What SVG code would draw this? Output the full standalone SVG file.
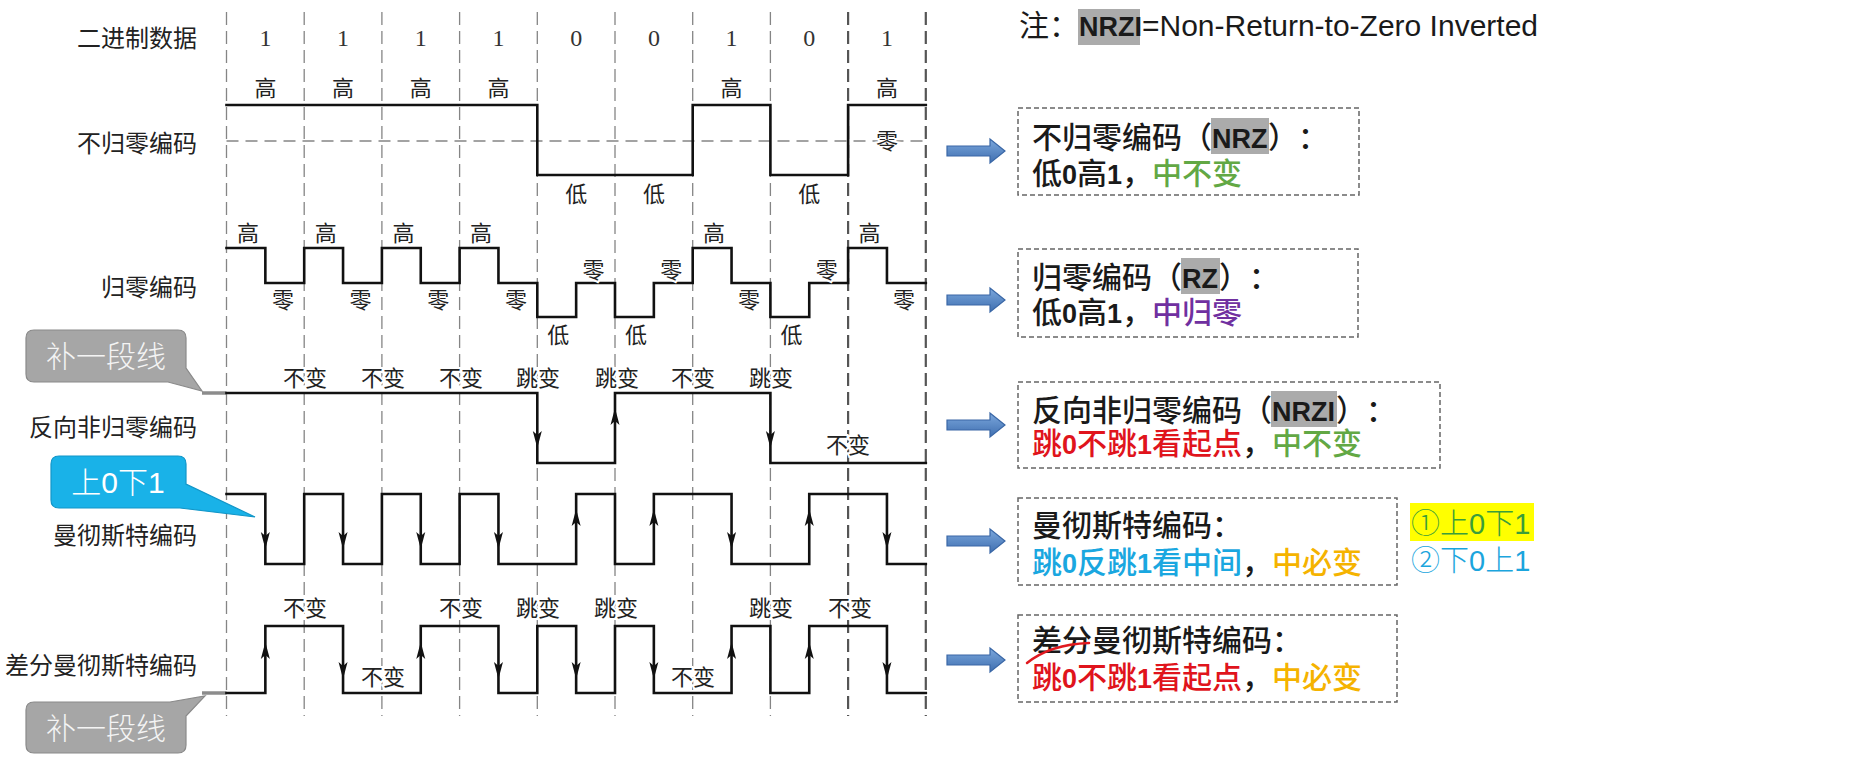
<svg xmlns="http://www.w3.org/2000/svg" xmlns:xlink="http://www.w3.org/1999/xlink" width="1850" height="771" viewBox="0 0 1850 771">
<style>
text{text-spacing-trim:space-all}
.grid{stroke:#858585;stroke-width:1.3;stroke-dasharray:13 6;fill:none}
.grid2{stroke:#555;stroke-width:2.2;stroke-dasharray:13 6;fill:none}
.zero{stroke:#858585;stroke-width:1.3;stroke-dasharray:12 7;fill:none}
.sig{stroke:#111;stroke-width:2.6;fill:none;stroke-linejoin:miter;stroke-linecap:square}
.ext{stroke:#8c8c8c;stroke-width:3.5;fill:none}
.lbl{font-family:"Noto Sans CJK SC",sans-serif;font-size:24px;fill:#222;text-anchor:end}
.s{font-family:"Noto Sans CJK SC",sans-serif;font-size:22px;fill:#222;text-anchor:middle;paint-order:stroke;stroke:#fff;stroke-width:4px}
.d{font-family:"Liberation Serif",serif;font-size:24px;fill:#333;text-anchor:middle}
.box{fill:#fff;stroke:#666;stroke-width:1.5;stroke-dasharray:5 3}
.bt{font-family:"Liberation Sans","Noto Sans CJK SC",sans-serif;font-size:30px;fill:#1a1a1a;font-weight:500}
.b{font-weight:bold;font-size:27px}
.hl{fill:#ababab}
.barrow{fill:url(#bg);stroke:#3a67a6;stroke-width:1.2}
.ah{fill:#111}
.cg{fill:#a6a6a6;stroke:#8a8a8a;stroke-width:1.2}
.cb{fill:#19b2e8;stroke:#1296c8;stroke-width:1.2}
.ct{font-family:"Liberation Sans","Noto Sans CJK SC",sans-serif;font-size:30px;fill:#f4f4f4;text-anchor:middle;font-weight:300}
.green{fill:#62a844}.purple{fill:#7030a0}.red{fill:#e0141c}.blue{fill:#1aa7e0}.orange{fill:#f5b300}
</style>
<defs>
<linearGradient id="bg" x1="0" y1="0" x2="0" y2="1"><stop offset="0" stop-color="#7ba7dc"/><stop offset="1" stop-color="#3f6fb0"/></linearGradient>
<path id="ad" d="M0,0 L-4.5,-17 L0,-13 L4.5,-17 Z"/>
<path id="au" d="M0,0 L-4.5,17 L0,13 L4.5,17 Z"/>
<path id="barr" d="M947,-5 H990 V-12 L1005,0 L990,12 V5 H947 Z"/>
</defs>
<rect width="1850" height="771" fill="#fff"/>

<g id="grid">
<path class="grid" d="M226.5,12V716M304.2,12V716M381.9,12V716M459.6,12V716M537.3,12V716M615,12V716M692.7,12V716M770.4,12V716"/>
<path class="grid2" d="M848.1,12V716M925.8,12V716"/>
</g>

<g id="row-labels">
<text class="lbl" x="197" y="47">二进制数据</text>
<text class="lbl" x="197" y="152">不归零编码</text>
<text class="lbl" x="197" y="296">归零编码</text>
<text class="lbl" x="197" y="436">反向非归零编码</text>
<text class="lbl" x="197" y="544">曼彻斯特编码</text>
<text class="lbl" x="197" y="674">差分曼彻斯特编码</text>
</g>

<g id="binary-data">
<text class="d" x="265.4" y="46">1</text><text class="d" x="343.1" y="46">1</text><text class="d" x="420.8" y="46">1</text><text class="d" x="498.5" y="46">1</text><text class="d" x="576.2" y="46">0</text><text class="d" x="653.9" y="46">0</text><text class="d" x="731.6" y="46">1</text><text class="d" x="809.3" y="46">0</text><text class="d" x="887" y="46">1</text>
</g>

<g id="nrz">
<path class="zero" d="M226.5,141H925.8"/>
<path class="sig" d="M226.5,105 H537.3 V175 H692.7 V105 H770.4 V175 H848.1 V105 H925.8"/>
<text class="s" x="265.4" y="96">高</text><text class="s" x="343.1" y="96">高</text><text class="s" x="420.8" y="96">高</text><text class="s" x="498.5" y="96">高</text><text class="s" x="731.6" y="96">高</text><text class="s" x="887" y="96">高</text>
<text class="s" x="576.2" y="202">低</text><text class="s" x="653.9" y="202">低</text><text class="s" x="809.3" y="202">低</text>
<text class="s" x="887" y="149">零</text>
</g>

<g id="rz">
<path class="sig" d="M226.5,248 H265.35 V283 H304.2 V248 H343.05 V283 H381.9 V248 H420.75 V283 H459.6 V248 H498.45 V283 H537.3 V317 H576.15 V283 H615 V317 H653.85 V283 H692.7 V248 H731.55 V283 H770.4 V317 H809.25 V283 H848.1 V248 H886.95 V283 H925.8"/>
<text class="s" x="248" y="241">高</text><text class="s" x="325.7" y="241">高</text><text class="s" x="403.4" y="241">高</text><text class="s" x="481.1" y="241">高</text><text class="s" x="714" y="241">高</text><text class="s" x="869.5" y="241">高</text>
<text class="s" x="283" y="308">零</text><text class="s" x="360.5" y="308">零</text><text class="s" x="438.2" y="308">零</text><text class="s" x="515.9" y="308">零</text><text class="s" x="749" y="308">零</text><text class="s" x="904" y="308">零</text>
<text class="s" x="558.3" y="343">低</text><text class="s" x="636" y="343">低</text><text class="s" x="791.4" y="343">低</text>
<text class="s" x="593.6" y="278">零</text><text class="s" x="671.3" y="278">零</text><text class="s" x="826.7" y="278">零</text>
</g>

<g id="nrzi">
<path class="ext" d="M202,393H226.5"/>
<path class="sig" d="M226.5,393 H537.3 V463 H615 V393 H770.4 V463 H925.8"/>
<use href="#ad" xlink:href="#ad" class="ah" x="537.3" y="448"/>
<use href="#au" xlink:href="#au" class="ah" x="615" y="408"/>
<use href="#ad" xlink:href="#ad" class="ah" x="770.4" y="448"/>
<text class="s" x="305" y="386">不变</text><text class="s" x="383" y="386">不变</text><text class="s" x="461" y="386">不变</text><text class="s" x="538" y="386">跳变</text><text class="s" x="617" y="386">跳变</text><text class="s" x="693" y="386">不变</text><text class="s" x="771" y="386">跳变</text>
<text class="s" x="848" y="453">不变</text>
</g>

<g id="manchester">
<path class="sig" d="M226.5,494 H265.35 V564 H304.2 V494 H343.05 V564 H381.9 V494 H420.75 V564 H459.6 V494 H498.45 V564 H576.15 V494 H615 V564 H653.85 V494 H731.55 V564 H809.25 V494 H886.95 V564 H925.8"/>
<use href="#ad" xlink:href="#ad" class="ah" x="265.35" y="549"/>
<use href="#ad" xlink:href="#ad" class="ah" x="343.05" y="549"/>
<use href="#ad" xlink:href="#ad" class="ah" x="420.75" y="549"/>
<use href="#ad" xlink:href="#ad" class="ah" x="498.45" y="549"/>
<use href="#au" xlink:href="#au" class="ah" x="576.15" y="509"/>
<use href="#au" xlink:href="#au" class="ah" x="653.85" y="509"/>
<use href="#ad" xlink:href="#ad" class="ah" x="731.55" y="549"/>
<use href="#au" xlink:href="#au" class="ah" x="809.25" y="509"/>
<use href="#ad" xlink:href="#ad" class="ah" x="886.95" y="549"/>
</g>

<g id="diff-manchester">
<path class="ext" d="M202,693H226.5"/>
<path class="sig" d="M226.5,693 H265.35 V626 H343.05 V693 H420.75 V626 H498.45 V693 H537.3 V626 H576.15 V693 H615 V626 H653.85 V693 H731.55 V626 H770.4 V693 H809.25 V626 H886.95 V693 H925.8"/>
<use href="#au" xlink:href="#au" class="ah" x="265.35" y="642"/>
<use href="#ad" xlink:href="#ad" class="ah" x="343.05" y="679"/>
<use href="#au" xlink:href="#au" class="ah" x="420.75" y="642"/>
<use href="#ad" xlink:href="#ad" class="ah" x="498.45" y="679"/>
<use href="#ad" xlink:href="#ad" class="ah" x="576.15" y="679"/>
<use href="#ad" xlink:href="#ad" class="ah" x="653.85" y="679"/>
<use href="#au" xlink:href="#au" class="ah" x="731.55" y="642"/>
<use href="#au" xlink:href="#au" class="ah" x="809.25" y="642"/>
<use href="#ad" xlink:href="#ad" class="ah" x="886.95" y="679"/>
<text class="s" x="305" y="616">不变</text><text class="s" x="461" y="616">不变</text><text class="s" x="538" y="616">跳变</text><text class="s" x="616" y="616">跳变</text><text class="s" x="771" y="616">跳变</text><text class="s" x="850" y="616">不变</text>
<text class="s" x="383" y="685">不变</text><text class="s" x="693" y="685">不变</text>
</g>

<g id="callout-top">
<path class="cg" d="M34,330 H178 Q186,330 186,338 V368 L202,391 L168,382 H34 Q26,382 26,374 V338 Q26,330 34,330 Z"/>
<text class="ct" x="106" y="367">补一段线</text>
</g>
<g id="callout-bottom">
<path class="cg" d="M34,702 H170 L205,696 L186,716 V745 Q186,753 178,753 H34 Q26,753 26,745 V710 Q26,702 34,702 Z"/>
<text class="ct" x="106" y="739">补一段线</text>
</g>
<g id="callout-manchester">
<path class="cb" d="M59,456 H178 Q186,456 186,464 V484 L255,517 L180,508 H59 Q51,508 51,500 V464 Q51,456 59,456 Z"/>
<text class="ct" x="118" y="493" style="fill:#fff">上0下1</text>
</g>

<g id="note">
<rect class="hl" x="1078" y="9" width="62" height="36"/>
<text class="bt" x="1019" y="36" style="font-weight:normal">注：<tspan class="b" font-size="26">NRZI</tspan>=Non-Return-to-Zero Inverted</text>
</g>

<g id="connectors">
<use href="#barr" xlink:href="#barr" class="barrow" y="151"/>
<use href="#barr" xlink:href="#barr" class="barrow" y="300"/>
<use href="#barr" xlink:href="#barr" class="barrow" y="425"/>
<use href="#barr" xlink:href="#barr" class="barrow" y="541"/>
<use href="#barr" xlink:href="#barr" class="barrow" y="660"/>
</g>

<g id="box-nrz">
<rect class="box" x="1018" y="108" width="341" height="87"/>
<rect class="hl" x="1211" y="118" width="58" height="36"/>
<text class="bt" x="1032" y="148">不归零编码（<tspan class="b" x="1212">NRZ</tspan><tspan x="1268">）：</tspan></text>
<text class="bt" x="1032" y="184">低<tspan class="b">0</tspan>高<tspan class="b">1</tspan>，<tspan class="green">中不变</tspan></text>
</g>

<g id="box-rz">
<rect class="box" x="1018" y="249" width="340" height="88"/>
<rect class="hl" x="1181" y="258" width="39" height="36"/>
<text class="bt" x="1032" y="288">归零编码（<tspan class="b" x="1182">RZ</tspan><tspan x="1219">）：</tspan></text>
<text class="bt" x="1032" y="323">低<tspan class="b">0</tspan>高<tspan class="b">1</tspan>，<tspan class="purple">中归零</tspan></text>
</g>

<g id="box-nrzi">
<rect class="box" x="1018" y="382" width="422" height="86"/>
<rect class="hl" x="1271" y="391" width="66" height="36"/>
<text class="bt" x="1032" y="421">反向非归零编码（<tspan class="b" x="1272">NRZI</tspan><tspan x="1336">）：</tspan></text>
<text class="bt" x="1032" y="454"><tspan class="red">跳<tspan class="b">0</tspan>不跳<tspan class="b">1</tspan>看起点</tspan>，<tspan class="green">中不变</tspan></text>
</g>

<g id="box-manchester">
<rect class="box" x="1018" y="498" width="379" height="87"/>
<text class="bt" x="1032" y="536">曼彻斯特编码：</text>
<text class="bt" x="1032" y="573"><tspan class="blue">跳<tspan class="b">0</tspan>反跳<tspan class="b">1</tspan>看中间</tspan>，<tspan class="orange">中必变</tspan></text>
</g>

<g id="box-dm">
<rect class="box" x="1018" y="615" width="379" height="87"/>
<text class="bt" x="1032" y="651">差分曼彻斯特编码：</text>
<text class="bt" x="1032" y="688"><tspan class="red">跳<tspan class="b">0</tspan>不跳<tspan class="b">1</tspan>看起点</tspan>，<tspan class="orange">中必变</tspan></text>
<path d="M1027,663 C1042,651 1062,644 1089,643" fill="none" stroke="#e0191f" stroke-width="2.5" stroke-linecap="round"/>
</g>

<g id="manchester-notes">
<rect x="1410" y="503" width="124" height="38" fill="#ffff00"/>
<text x="1411" y="534" style="font-family:'Liberation Sans','Noto Sans CJK SC',sans-serif;font-size:29px;font-weight:300;fill:#3a9e3a">①上0下1</text>
<text x="1411" y="571" style="font-family:'Liberation Sans','Noto Sans CJK SC',sans-serif;font-size:29px;font-weight:300;fill:#1ba5dd">②下0上1</text>
</g>
</svg>
